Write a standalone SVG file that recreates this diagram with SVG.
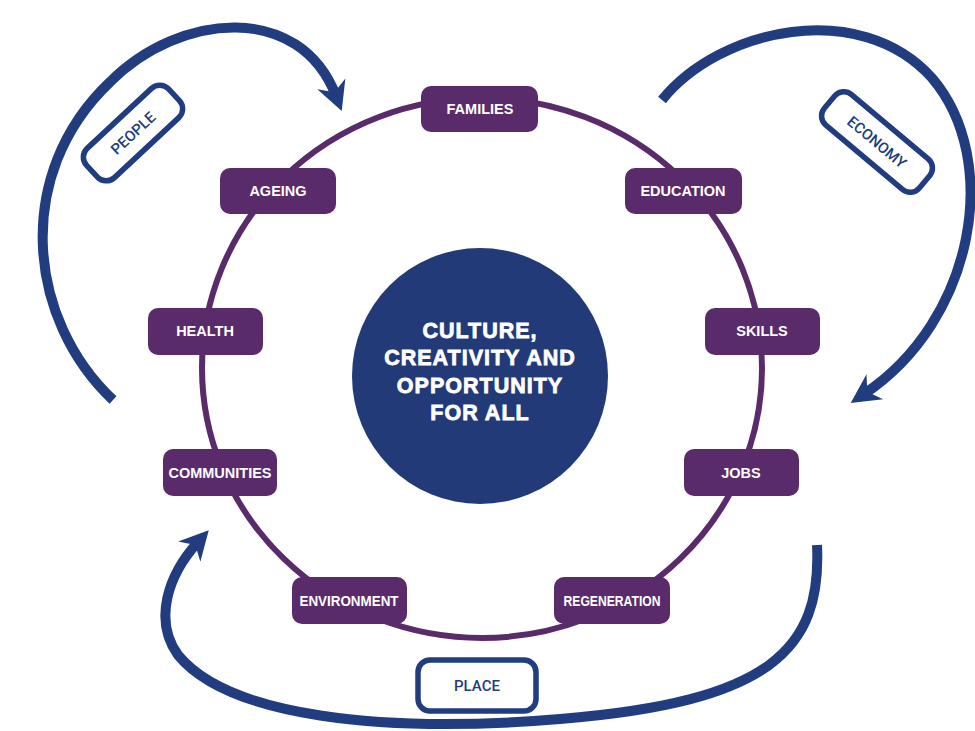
<svg xmlns="http://www.w3.org/2000/svg" width="975" height="731" viewBox="0 0 975 731">
<defs>
<style>
.ring{fill:none;stroke:#5a2b6b;stroke-width:6}
.arrow{fill:none;stroke:#213d80;stroke-width:10;stroke-linecap:butt}
.node rect{fill:#5a2b6b}
.node text{fill:#ffffff;font-family:"Liberation Sans",Arial,sans-serif;font-weight:bold;font-size:14.5px;text-anchor:middle}
.label rect{fill:#ffffff;stroke:#213d80;stroke-width:5.5}
.label text{fill:#213d80;font-family:Roboto,"Liberation Sans",sans-serif;font-weight:500;font-size:15px;text-anchor:middle}
.core text{fill:#ffffff;font-family:"Liberation Sans",Arial,sans-serif;font-weight:bold;font-size:21.5px;letter-spacing:1px;text-anchor:middle;stroke:#ffffff;stroke-width:0.8}
</style>
<marker id="head" markerUnits="userSpaceOnUse" markerWidth="50" markerHeight="50" viewBox="-12 -25 50 50" refX="7" refY="0" orient="auto">
<path d="M23,0 L-6,-15 L3,0 L-6,15 Z" fill="#213d80"/>
</marker>
</defs>
<rect width="975" height="731" fill="#ffffff"/>
<g id="connectors">
<ellipse class="ring" cx="482" cy="368" rx="280" ry="270"/>
<path class="arrow" marker-end="url(#head)" d="M 113 400 C 28 320, 12 175, 110 82 C 180 12, 300 2, 336 96"/>
<path class="arrow" marker-end="url(#head)" d="M 662 100 C 720 28, 860 -2, 932 78 C 1002 160, 975 320, 864 394"/>
<path class="arrow" marker-end="url(#head)" d="M 817 545 C 822 650, 770 702, 560 719 C 380 734, 228 716, 178 655 C 153 620, 168 575, 198 542"/>
</g>
<g id="core" class="core">
<circle cx="480" cy="376" r="128" fill="#223a78" stroke="none"/>
<text x="480" y="338">CULTURE,</text>
<text x="480" y="365">CREATIVITY AND</text>
<text x="480" y="393">OPPORTUNITY</text>
<text x="480" y="420">FOR ALL</text>
</g>
<g id="families" class="node"><rect x="421" y="86" width="117" height="46" rx="10"/><text x="480" y="114">FAMILIES</text></g>
<g id="ageing" class="node"><rect x="220" y="168" width="116" height="46" rx="10"/><text x="278" y="196">AGEING</text></g>
<g id="education" class="node"><rect x="625" y="168" width="117" height="46" rx="10"/><text x="683" y="196">EDUCATION</text></g>
<g id="health" class="node"><rect x="148" y="308" width="115" height="47" rx="10"/><text x="205" y="336">HEALTH</text></g>
<g id="skills" class="node"><rect x="705" y="308" width="115" height="47" rx="10"/><text x="762" y="336">SKILLS</text></g>
<g id="communities" class="node"><rect x="163" y="449" width="114" height="47" rx="10"/><text x="220" y="478">COMMUNITIES</text></g>
<g id="jobs" class="node"><rect x="684" y="449" width="115" height="47" rx="10"/><text x="741" y="478">JOBS</text></g>
<g id="environment" class="node"><rect x="292" y="577" width="115" height="47" rx="10"/><text x="349" y="606" textLength="99" lengthAdjust="spacingAndGlyphs">ENVIRONMENT</text></g>
<g id="regeneration" class="node"><rect x="554" y="577" width="116" height="47" rx="10"/><text x="612" y="606" textLength="97" lengthAdjust="spacingAndGlyphs">REGENERATION</text></g>
<g id="people" class="label" transform="translate(133 133) rotate(-43)"><rect x="-56" y="-20" width="112" height="40" rx="12"/><text x="0" y="5.5">PEOPLE</text></g>
<g id="economy" class="label" transform="translate(877 142) rotate(40)"><rect x="-62" y="-20" width="124" height="40" rx="12"/><text x="0" y="5.5">ECONOMY</text></g>
<g id="place" class="label"><rect x="418" y="660" width="118" height="51" rx="12"/><text x="477" y="691">PLACE</text></g>
</svg>
